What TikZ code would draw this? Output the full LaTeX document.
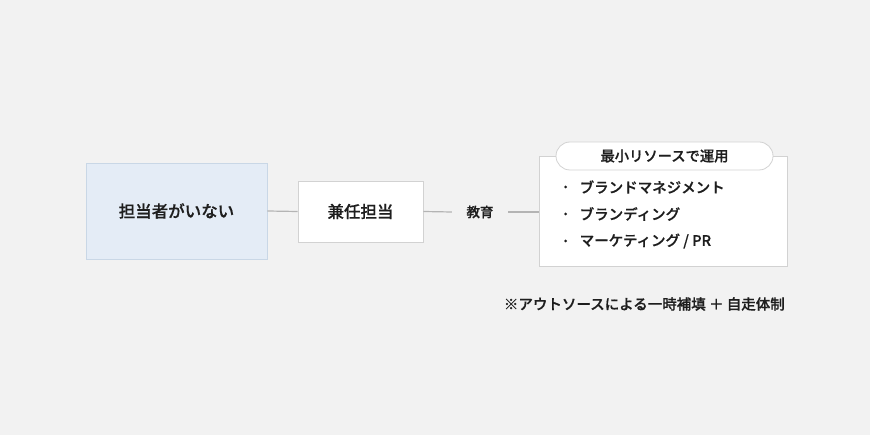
\documentclass[tikz,border=0pt]{standalone}
\usepackage{fontspec}
\newfontfamily\cjk[FakeBold=0.6]{Noto Sans CJK JP Medium}
\definecolor{bg}{HTML}{F2F2F2}
\definecolor{bluefill}{HTML}{E4ECF6}
\definecolor{blueline}{HTML}{C9D7E6}
\definecolor{boxline}{HTML}{D2D2D2}
\definecolor{conn}{HTML}{B4B4B4}
\definecolor{txt}{HTML}{1E1E1E}
\begin{document}
\begin{tikzpicture}[x=1pt,y=-1pt,
  every node/.style={font=\cjk, text=txt, inner sep=0pt},
  box/.style={draw=boxline, fill=white, line width=0.8pt},
  conline/.style={draw=conn, line width=1.2pt}]
\fill[bg] (0,0) rectangle (870,435);
\useasboundingbox (0,0) rectangle (870,435);
% boxes
\node[box, draw=blueline, fill=bluefill, minimum width=181pt, minimum height=96pt, font=\cjk\fontsize{16.5}{18}\selectfont] (none) at (176.5,211) {担当者がいない};
\node[box, minimum width=125pt, minimum height=61pt, font=\cjk\fontsize{16.5}{18}\selectfont] (kennin) at (360.5,211.5) {兼任担当};
\node[font=\cjk\fontsize{13.5}{16}\selectfont, minimum width=56pt, minimum height=20pt] (edu) at (480,212) {教育};
\node[box, minimum width=248pt, minimum height=110pt] (res) at (663,211) {};
\node[draw=boxline, fill=white, line width=0.8pt, rounded corners=14pt, minimum width=217pt, minimum height=28pt, font=\cjk\fontsize{14.3}{16}\selectfont] (title) at (664.5,156) {最小リソースで運用};
% bullets
\foreach \y/\t/\n in {187/{ブランドマネジメント}/b1, 214/{ブランディング}/b2, 241/{マーケティング / PR}/b3}{
  \fill[txt] (565.5,\y) circle (1.5pt);
  \node[anchor=west, font=\cjk\fontsize{14.5}{16}\selectfont] (\n) at (579.5,\y) {\t};
}
% connectors
\draw[conline] (none.east) -- (kennin.west);
\draw[conline] (kennin.east) -- (edu.west);
\draw[conline] (edu.east) -- (res.west |- edu.east);
% footnote
\node[anchor=east, font=\cjk\fontsize{14.5}{16}\selectfont] (note) at (785,304) {※アウトソースによる一時補填 ＋ 自走体制};
\end{tikzpicture}
\end{document}
